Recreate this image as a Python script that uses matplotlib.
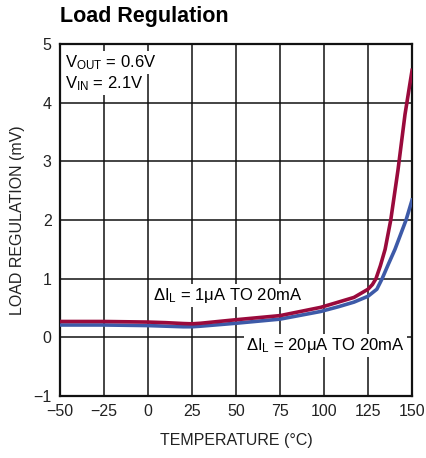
import matplotlib
matplotlib.use("Agg")
import matplotlib.pyplot as plt

FONT = 'Liberation Sans'
plt.rcParams['font.family'] = [FONT, 'DejaVu Sans']
plt.rcParams['mathtext.fontset'] = 'custom'
plt.rcParams['mathtext.rm'] = FONT
plt.rcParams['mathtext.it'] = FONT
plt.rcParams['mathtext.bf'] = FONT

# data
temp_1uA = [-50, -25, 0, 10, 20, 25, 30, 50, 75, 98, 107, 117, 125, 127.5, 129.5, 132,
            134.7, 137.9, 142, 146, 150]
reg_1uA = [0.27, 0.27, 0.26, 0.25, 0.235, 0.23, 0.24, 0.30, 0.37, 0.51, 0.59, 0.68, 0.82,
           0.90, 1.0, 1.22, 1.5, 2.0, 2.85, 3.8, 4.55]
temp_20uA = [-50, -25, 0, 10, 20, 25, 30, 50, 75, 98, 108, 117, 125, 130, 133, 136.6,
             140.3, 146.6, 150]
reg_20uA = [0.21, 0.21, 0.20, 0.19, 0.18, 0.18, 0.19, 0.24, 0.31, 0.44, 0.52, 0.60, 0.70,
            0.82, 1.0, 1.25, 1.5, 2.0, 2.34]
xticks = [-50, -25, 0, 25, 50, 75, 100, 125, 150]
yticks = [-1, 0, 1, 2, 3, 4, 5]
ytick_labels = ['\u22121', '0', '1', '2', '3', '4', '5']
xtick_labels = ['\u221250', '\u221225', '0', '25', '50', '75', '100', '125', '150']

RED = '#9a0a3c'
BLUE = '#3d5aa8'

fig = plt.figure(figsize=(4.27, 4.58), dpi=100)
ax = fig.add_axes([0.1405, 0.1354, 0.8245, 0.7686])
ax.set_xlim(-50, 150)
ax.set_ylim(-1, 5)
ax.set_xticks(xticks)
ax.set_xticklabels(xtick_labels)
ax.set_yticks(yticks)
ax.set_yticklabels(ytick_labels)
ax.tick_params(length=0, labelsize=11.5, pad=6, colors='#222222')
ax.grid(True, color='#111111', linewidth=1.1)
ax.set_axisbelow(True)
for s in ax.spines.values():
    s.set_linewidth(1.6)
    s.set_color('#111111')

ax.plot(temp_20uA, reg_20uA, color=BLUE, linewidth=2.6, solid_joinstyle='round', zorder=3)
ax.plot(temp_1uA, reg_1uA, color=RED, linewidth=2.6, solid_joinstyle='round', zorder=4)

bbox = dict(facecolor='white', edgecolor='none', pad=1.5)
ax.text(-47, 4.68, r'V$_{\mathregular{OUT}}$ = 0.6V', fontsize=12, va='center', ha='left',
        bbox=bbox, zorder=5)
ax.text(-47, 4.32, r'V$_{\mathregular{IN}}$ = 2.1V', fontsize=12, va='center', ha='left',
        bbox=bbox, zorder=5)
ax.text(3, 0.72, r'$\Delta$I$_{\mathregular{L}}$ = 1μA TO 20mA', fontsize=12, va='center',
        ha='left', bbox=bbox, zorder=5)
ax.text(146, -0.14, r'$\Delta$I$_{\mathregular{L}}$ = 20μA TO 20mA', fontsize=12,
        va='center', ha='right', bbox=bbox, zorder=5)

ax.set_xlabel('TEMPERATURE (\u00b0C)', fontsize=11.5, labelpad=10, color='#222222')
ax.set_ylabel('LOAD REGULATION (mV)', fontsize=11.5, labelpad=6, color='#222222')
fig.text(0.1405, 0.94, 'Load Regulation', fontsize=15.5, fontweight='bold', ha='left',
         va='bottom')

fig.savefig('out.png', dpi=100)
